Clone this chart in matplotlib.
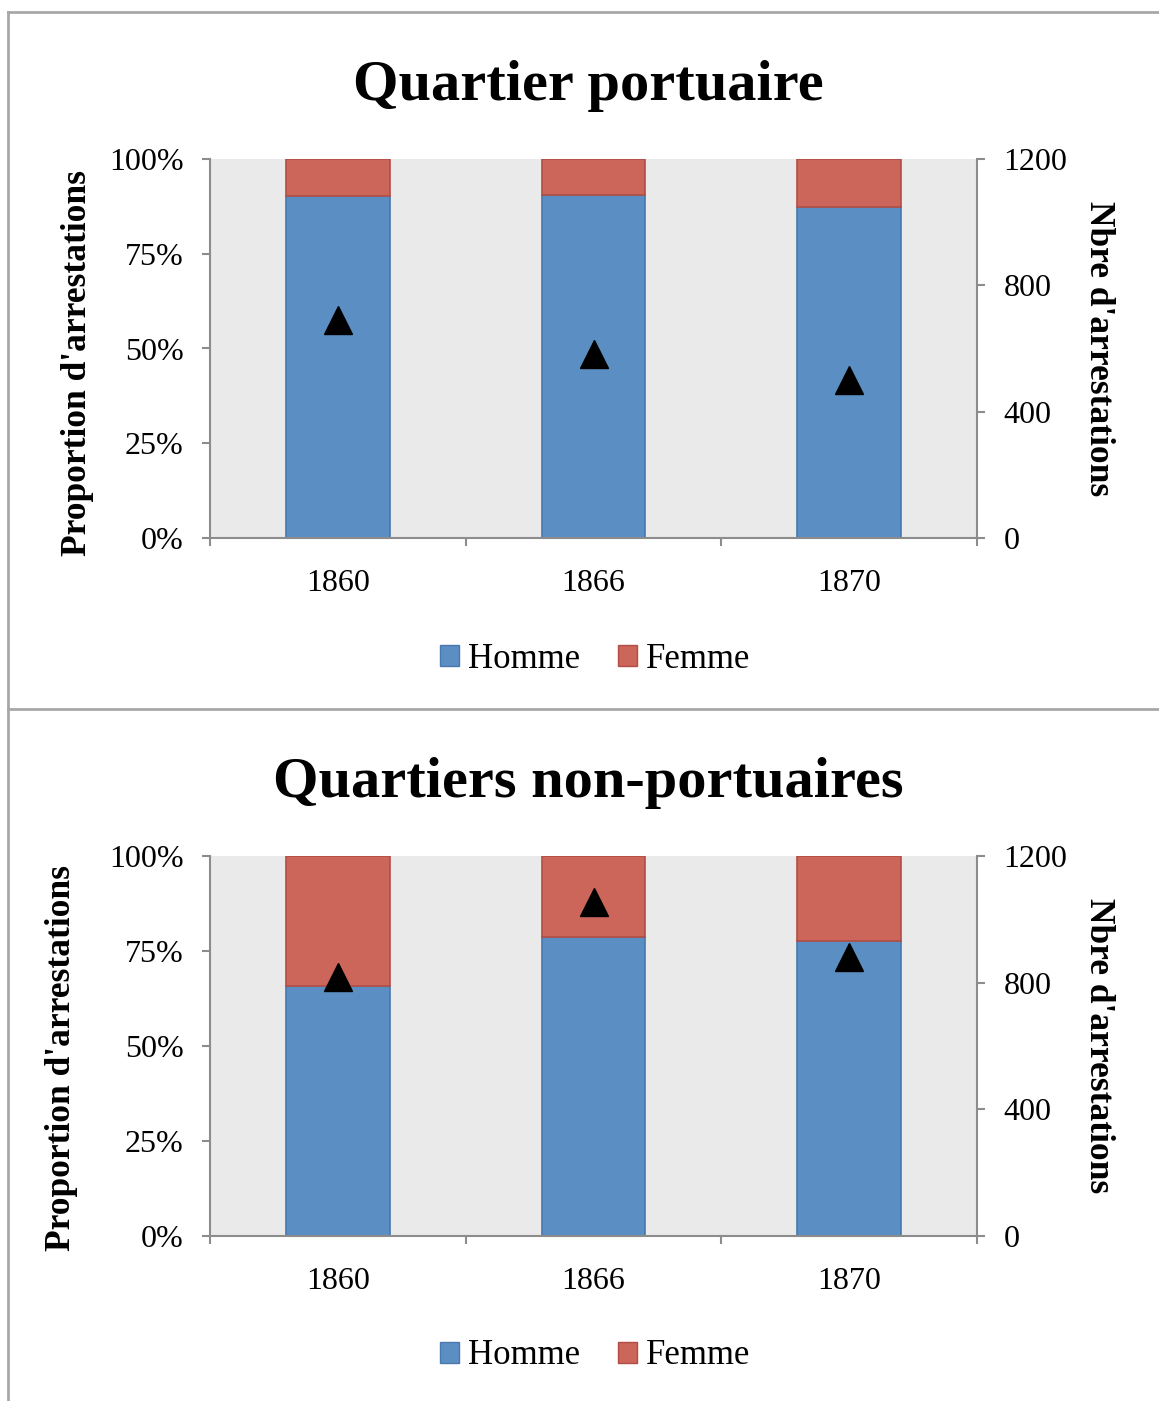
import matplotlib
matplotlib.use("Agg")
import matplotlib.pyplot as plt
from matplotlib.lines import Line2D
from matplotlib.patches import Patch
import numpy as np

years = ["1860", "1866", "1870"]
port_homme = [0.903, 0.905, 0.874]
port_count = [690, 583, 500]
nonport_homme = [0.659, 0.787, 0.777]
nonport_count = [818, 1055, 881]
titles = ["Quartier portuaire", "Quartiers non-portuaires"]
left_label = "Proportion d'arrestations"
right_label = "Nbre d'arrestations"
series_names = ["Homme", "Femme"]

plt.rcParams['font.family'] = ['Liberation Serif', 'DejaVu Serif']

W, H = 1159, 1401
fig = plt.figure(figsize=(W / 100, H / 100), dpi=100)

BLUE = "#5B8FC4"
BLUE_E = "#4A78AE"
RED = "#CC655A"
RED_E = "#B14E45"
SPINE = "#8C8C8C"
BG = "#EAEAEA"

def fx(x):
    return x / W

def fy(y):
    return 1 - y / H

# panel borders
border = "#A8A8A8"
fig.add_artist(Line2D([fx(8), fx(1159)], [fy(12), fy(12)], color=border, lw=2))
fig.add_artist(Line2D([fx(8), fx(8)], [fy(12), fy(708)], color=border, lw=2))
fig.add_artist(Line2D([fx(8), fx(1159)], [fy(709), fy(709)], color=border, lw=2))
fig.add_artist(Line2D([fx(8), fx(8)], [fy(709), fy(1401)], color=border, lw=2))

panels = [
    dict(data=(port_homme, port_count), top=159, bottom=538, title_y=86, ll_x=78, ll_dy=14, leg_y=659),
    dict(data=(nonport_homme, nonport_count), top=856, bottom=1236, title_y=783, ll_x=62, ll_dy=12, leg_y=1356),
]

for i, p in enumerate(panels):
    homme, count = p["data"]
    femme = [1 - h for h in homme]
    left, right = 210, 977
    ax = fig.add_axes([fx(left), fy(p["bottom"]), (right - left) / W, (p["bottom"] - p["top"]) / H])
    ax.set_facecolor(BG)
    x = np.arange(len(years))
    ax.bar(x, homme, width=0.405, color=BLUE, edgecolor=BLUE_E, linewidth=1.2, zorder=2)
    ax.bar(x, femme, bottom=homme, width=0.405, color=RED, edgecolor=RED_E, linewidth=1.2, zorder=2)
    ax.set_xlim(-0.5, 2.5)
    ax.set_ylim(0, 1)
    ax.set_yticks([0, 0.25, 0.5, 0.75, 1.0])
    ax.set_yticklabels(["0%", "25%", "50%", "75%", "100%"], fontsize=23)
    ax.set_xticks(x)
    ax.set_xticklabels(years, fontsize=23)
    ax.set_xticks([-0.5, 0.5, 1.5, 2.5], minor=True)
    ax.tick_params(axis='x', which='major', length=0, pad=22)
    ax.tick_params(axis='x', which='minor', length=6, color=SPINE, width=1.5, direction='out')
    ax.tick_params(axis='y', length=6, color=SPINE, width=1.5, pad=13)
    for s in ["top", "right"]:
        ax.spines[s].set_visible(False)
    for s in ["left", "bottom"]:
        ax.spines[s].set_color(SPINE)
        ax.spines[s].set_linewidth(1.5)

    ax2 = ax.twinx()
    ax2.plot(x, count, linestyle='none', marker='^', markersize=20, color='black', zorder=5)
    ax2.set_ylim(0, 1200)
    ax2.set_yticks([0, 400, 800, 1200])
    ax2.set_yticklabels(["0", "400", "800", "1200"], fontsize=23)
    ax2.tick_params(axis='y', length=6, color=SPINE, width=1.5, pad=13)
    for s in ["top", "left", "bottom"]:
        ax2.spines[s].set_visible(False)
    ax2.spines["right"].set_color(SPINE)
    ax2.spines["right"].set_linewidth(1.5)

    mid = (p["top"] + p["bottom"]) / 2
    fig.text(fx(588), fy(p["title_y"]), titles[i], fontsize=42, fontweight='bold',
             ha='center', va='center')
    fig.text(fx(p["ll_x"]), fy(mid + p["ll_dy"]), left_label, fontsize=25.5,
             fontweight='bold', rotation=90, ha='center', va='center')
    fig.text(fx(1098), fy(mid), right_label, fontsize=25.5,
             fontweight='bold', rotation=-90, ha='center', va='center')

    handles = [Patch(facecolor=BLUE, edgecolor=BLUE_E), Patch(facecolor=RED, edgecolor=RED_E)]
    fig.legend(handles, series_names, loc='center', bbox_to_anchor=(fx(595), fy(p["leg_y"])),
               ncol=2, frameon=False, fontsize=25, handlelength=0.55, handleheight=0.55,
               handletextpad=0.25, columnspacing=1.1)

fig.savefig("out.png", dpi=100, facecolor='white')
